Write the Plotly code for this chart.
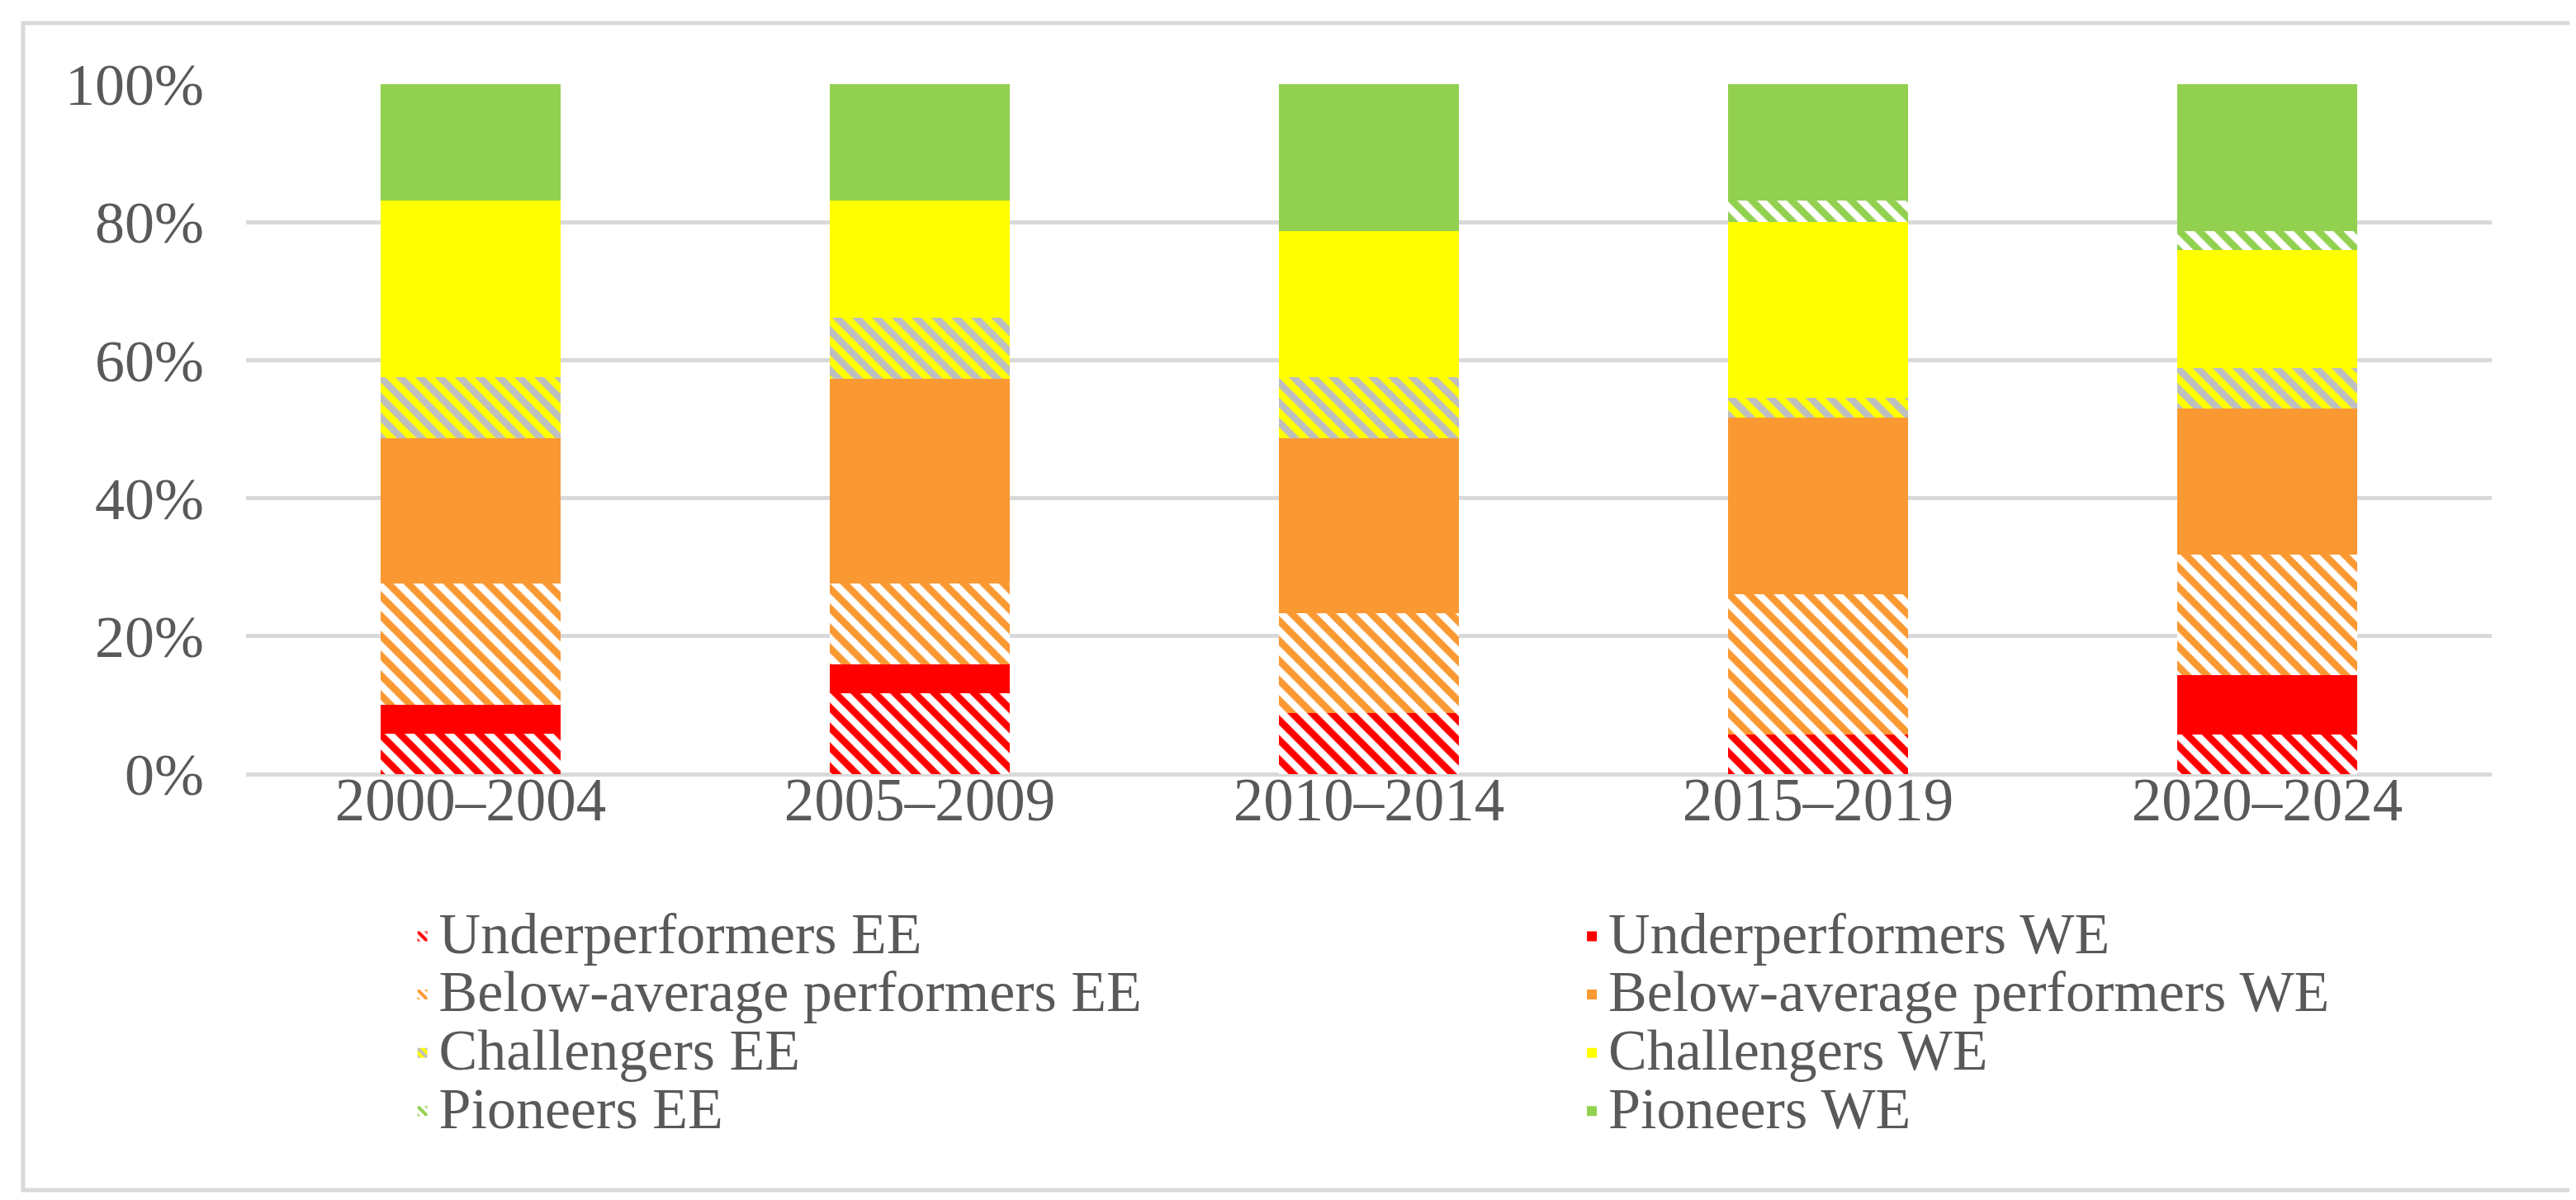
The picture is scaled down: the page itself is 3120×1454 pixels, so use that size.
import plotly.graph_objects as go

# ---- data (percent shares) ----
periods = ["2000–2004", "2005–2009", "2010–2014", "2015–2019", "2020–2024"]
under_ee = [5.9, 11.7, 8.8, 5.8, 5.8]
under_we = [4.1, 4.2, 0.0, 0.0, 8.5]
below_ee = [17.6, 11.7, 14.5, 20.3, 17.5]
below_we = [21.1, 29.7, 25.4, 25.6, 21.2]
chall_ee = [8.8, 8.8, 8.8, 2.8, 5.9]
chall_we = [25.6, 17.0, 21.2, 25.5, 17.0]
pion_ee = [0.0, 0.0, 0.0, 3.1, 2.8]
pion_we = [16.9, 16.9, 21.3, 16.9, 21.3]
y_ticks = [0, 20, 40, 60, 80, 100]
y_tick_labels = ["0%", "20%", "40%", "60%", "80%", "100%"]

series = [
    ("Underperformers EE", under_ee),
    ("Underperformers WE", under_we),
    ("Below-average performers EE", below_ee),
    ("Below-average performers WE", below_we),
    ("Challengers EE", chall_ee),
    ("Challengers WE", chall_we),
    ("Pioneers EE", pion_ee),
    ("Pioneers WE", pion_we),
]

# ---- styles ----
RED, ORANGE, YELLOW, GREEN = "#FF0000", "#FA9832", "#FFFF00", "#92D050"
HATCH_GRAY = "#BFBFBF"
styles = {
    "Underperformers EE": dict(pattern=True, fg=RED, bg="#FFFFFF"),
    "Underperformers WE": dict(pattern=False, color=RED),
    "Below-average performers EE": dict(pattern=True, fg=ORANGE, bg="#FFFFFF"),
    "Below-average performers WE": dict(pattern=False, color=ORANGE),
    "Challengers EE": dict(pattern=True, fg=HATCH_GRAY, bg=YELLOW),
    "Challengers WE": dict(pattern=False, color=YELLOW),
    "Pioneers EE": dict(pattern=True, fg=GREEN, bg="#FFFFFF"),
    "Pioneers WE": dict(pattern=False, color=GREEN),
}

W, H = 3120, 1454
ML, MR, MT, MB = 290, 110, 94, 524
FONT = "Liberation Serif, Times New Roman, serif"
TXT = "#595959"
GRID = "#D9D9D9"

fig = go.Figure()
for name, vals in series:
    st = styles[name]
    if st["pattern"]:
        marker = dict(
            color=st["bg"],
            pattern=dict(shape="\\", fillmode="replace", fgcolor=st["fg"],
                         bgcolor=st["bg"], size=17, solidity=0.5),
            line=dict(width=0),
        )
    else:
        marker = dict(color=st["color"], line=dict(width=0))
    fig.add_trace(go.Bar(
        x=periods, y=vals,
        name='<span style="font-size:70px">' + name + "</span>",
        marker=marker,
        legend="legend" if name.endswith("EE") else "legend2",
    ))

legend_common = dict(
    orientation="v", traceorder="normal",
    font=dict(family=FONT, size=52, color=TXT),
    bgcolor="rgba(0,0,0,0)", borderwidth=0,
    xref="container", yref="container",
    xanchor="left", yanchor="top",
    itemclick=False, itemdoubleclick=False,
)

fig.update_layout(
    width=W, height=H,
    barmode="stack", bargap=0.6,
    plot_bgcolor="#FFFFFF", paper_bgcolor="#FFFFFF",
    margin=dict(l=ML, r=MR, t=MT, b=MB, autoexpand=False),
    font=dict(family=FONT, color=TXT),
    legend=dict(legend_common, x=0.155, y=0.253),
    legend2=dict(legend_common, x=0.609, y=0.253),
    xaxis=dict(
        type="category", showgrid=False, showline=False, zeroline=False,
        ticks="", tickfont=dict(family=FONT, size=73, color=TXT),
        ticklabelstandoff=-18,
    ),
    yaxis=dict(
        range=[0, 100], tickvals=y_ticks, ticktext=y_tick_labels,
        showgrid=True, gridcolor=GRID, gridwidth=5,
        zeroline=True, zerolinecolor=GRID, zerolinewidth=5,
        showline=False, ticks="",
        tickfont=dict(family=FONT, size=72, color=TXT),
        ticklabelstandoff=50,
    ),
)

# outer chart border (light gray frame around the whole chart)
pw, ph = W - ML - MR, H - MT - MB
bx0, by0, bx1, by1 = 20, 20, W - 10, H - 20
fig.add_shape(
    type="rect", xref="paper", yref="paper", layer="below",
    x0=(bx0 - ML) / pw, x1=(bx1 - ML) / pw,
    y0=(H - MB - by1) / ph, y1=(H - MB - by0) / ph,
    line=dict(color=GRID, width=5), fillcolor="rgba(0,0,0,0)",
)

fig.write_html("out.html")
